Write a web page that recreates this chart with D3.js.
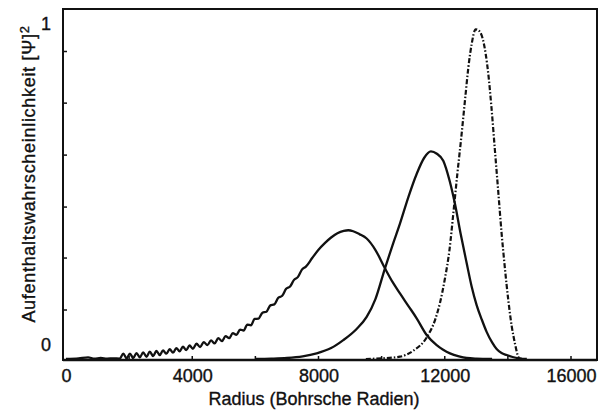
<!DOCTYPE html>
<html><head><meta charset="utf-8">
<script src="https://cdn.jsdelivr.net/npm/d3@7"></script>
<style>
html,body{margin:0;padding:0;background:#fff;}
svg{display:block;}
text{font-family:"Liberation Sans",Arial,sans-serif;fill:#111;stroke:#111;stroke-width:0.35px;}
</style></head>
<body>
<svg id="chart" width="609" height="412"></svg>
<script>
// ---- data ----
const xTickValues = [0, 4000, 8000, 12000, 16000];
const xTickLabels = ["0", "4000", "8000", "12000", "16000"];
const xMinorTicks = [2000, 4000, 6000, 8000, 10000, 12000, 14000, 16000];
const yTickValues = [0, 1];
const yTickLabels = ["0", "1"];
const yMinorTicks = [0.148, 0.305, 0.459, 0.616, 0.773, 0.929];
const xTitle = "Radius (Bohrsche Radien)";
const yTitle = "Aufenthaltswahrscheinlichkeit [Ψ]";

// curve A: broad distribution with oscillations
const curveAx = [0,400,700,900,1100,1300,1500,1700,1816,1920,2025,2130,2235,2340,2445,2550,2655,2760,2865,2970,3075,3180,3285,3390,3495,3600,3705,3810,3915,4020,4135,4250,4365,4480,4595,4710,4825,4940,5055,5170,5285,5400,5515,5630,5745,5860,5975,6100,6225,6350,6475,6600,6725,6850,6975,7100,7225,7350,7475,7600,7800,8000,8200,8400,8600,8800,8944,9100,9300,9526,9800,10106,10350,10581,10850,11110,11427,11744,11950,12166,12450,12694,13000,13500];
const curveAy = [0,0.002,0.005,0.001,0.003,0.001,0.002,0.001,0.016,0.002,0.016,0.003,0.018,0.005,0.020,0.0065,0.022,0.009,0.0245,0.0115,0.026,0.016,0.0295,0.019,0.033,0.023,0.037,0.027,0.041,0.031,0.046,0.036,0.051,0.042,0.056,0.047,0.063,0.054,0.069,0.063,0.078,0.073,0.089,0.086,0.104,0.102,0.121,0.122,0.140,0.143,0.162,0.165,0.185,0.191,0.212,0.219,0.239,0.248,0.270,0.279,0.305,0.330,0.350,0.367,0.380,0.387,0.389,0.386,0.377,0.364,0.330,0.274,0.232,0.198,0.160,0.123,0.0725,0.042,0.028,0.017,0.008,0.003,0.001,0];

// curve B: narrower solid distribution
const curveBx = [6000,6500,7000,7500,7942,8400,8785,9200,9526,9800,10106,10350,10581,10850,11110,11350,11563,11750,11953,12150,12323,12500,12694,12850,13010,13170,13327,13500,13644,13800,13961,14150,14330,14600];
const curveBy = [0,0.001,0.003,0.008,0.017,0.033,0.057,0.090,0.127,0.180,0.274,0.345,0.409,0.490,0.559,0.608,0.627,0.620,0.599,0.540,0.469,0.380,0.290,0.220,0.163,0.120,0.082,0.050,0.030,0.018,0.012,0.006,0.002,0];

// curve C: dash-dot, sharp peak
const curveCx = [9500,10000,10581,11003,11427,11700,11850,12000,12150,12271,12400,12535,12650,12747,12850,12979,13100,13220,13300,13380,13480,13590,13700,13802,13900,14013,14120,14224,14300,14362,14500];
const curveCy = [0,0.002,0.007,0.025,0.065,0.12,0.17,0.24,0.33,0.439,0.56,0.68,0.79,0.88,0.95,0.996,0.99,0.961,0.92,0.861,0.76,0.63,0.50,0.379,0.28,0.178,0.10,0.047,0.015,0.002,0];

// ---- layout ----
const svg = d3.select("#chart");
const frame = {left: 63, right: 597, top: 9, bottom: 360};
const x = d3.scaleLinear().domain([0, 16000]).range([66, 571]);
const y = d3.scaleLinear().domain([0, 1]).range([359, 28]);

const line = d3.line().x(d => x(d[0])).y(d => y(d[1])).curve(d3.curveMonotoneX);
const zip = (a, b) => a.map((v, i) => [v, b[i]]);

// curves
const g = svg.append("g");
g.append("path").datum(zip(curveAx, curveAy)).attr("d", line)
  .attr("fill", "none").attr("stroke", "#111").attr("stroke-width", 2.3);
g.append("path").datum(zip(curveBx, curveBy)).attr("d", line)
  .attr("fill", "none").attr("stroke", "#111").attr("stroke-width", 2.3);
g.append("path").datum(zip(curveCx, curveCy)).attr("d", line)
  .attr("fill", "none").attr("stroke", "#111").attr("stroke-width", 2.2)
  .attr("stroke-dasharray", "5,2,1.5,2");

// frame
svg.append("rect").attr("x", frame.left).attr("y", frame.top)
  .attr("width", frame.right - frame.left).attr("height", frame.bottom - frame.top)
  .attr("fill", "none").attr("stroke", "#111").attr("stroke-width", 2);
svg.append("line").attr("x1", frame.left).attr("x2", frame.right)
  .attr("y1", frame.bottom).attr("y2", frame.bottom)
  .attr("stroke", "#111").attr("stroke-width", 2.6);

const FS = "18px";
// x axis labels
const xAxis = d3.axisBottom(x).tickValues(xTickValues)
  .tickFormat((d, i) => xTickLabels[i]).tickSize(0).tickPadding(0);
const xg = svg.append("g").attr("transform", `translate(0,${frame.bottom})`).call(xAxis);
xg.select(".domain").remove();
xg.selectAll("text").attr("y", 9).attr("dy", "0.71em")
  .style("font-size", FS).style("font-family", "'Liberation Sans', Arial, sans-serif").attr("fill", "#111");
// x minor ticks (inward)
svg.append("g").selectAll("line").data(xMinorTicks).join("line")
  .attr("x1", d => x(d)).attr("x2", d => x(d))
  .attr("y1", frame.bottom).attr("y2", frame.bottom - 4)
  .attr("stroke", "#111").attr("stroke-width", 1.5);

// y axis labels
const yAxis = d3.axisLeft(y).tickValues(yTickValues)
  .tickFormat((d, i) => yTickLabels[i]).tickSize(0).tickPadding(0);
const yg = svg.append("g").attr("transform", `translate(${frame.left},0)`).call(yAxis);
yg.select(".domain").remove();
yg.selectAll("text").attr("x", -12).attr("dy", (d) => d === 0 ? "-0.45em" : "0.1em")
  .style("font-size", FS).style("font-family", "'Liberation Sans', Arial, sans-serif").attr("fill", "#111");
// y minor ticks (inward)
svg.append("g").selectAll("line").data(yMinorTicks).join("line")
  .attr("x1", frame.left).attr("x2", frame.left + 4)
  .attr("y1", d => y(d)).attr("y2", d => y(d))
  .attr("stroke", "#111").attr("stroke-width", 1.5);

// titles
svg.append("text").attr("x", 314).attr("y", 405).attr("text-anchor", "middle")
  .style("font-size", FS).text(xTitle);
const yt = svg.append("text").attr("transform", "translate(35,174) rotate(-90)")
  .attr("text-anchor", "middle").style("font-size", FS).style("letter-spacing", "0.7px");
yt.append("tspan").text(yTitle);
yt.append("tspan").attr("dy", "-0.45em").style("font-size", "13px").text("2");
</script>
</body></html>
